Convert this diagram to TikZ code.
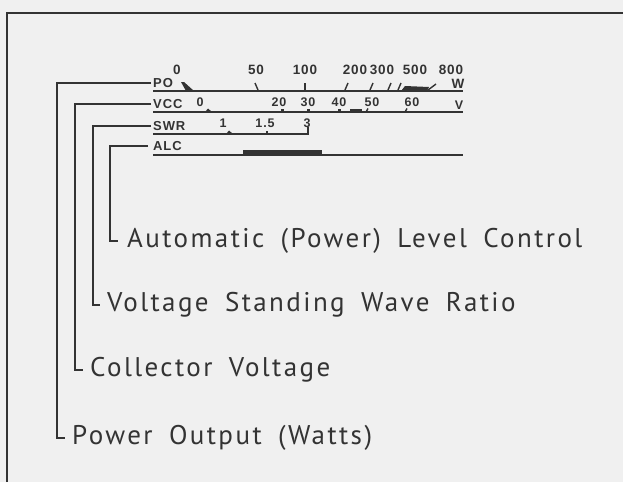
\documentclass[tikz,border=0pt]{standalone}
\usepackage{fontspec}
\setmainfont{PT Sans}
\newfontfamily\bigfont[LetterSpace=9,WordSpace=1.7]{PT Sans}
\newfontfamily\scalefont[LetterSpace=7]{Liberation Sans}
\definecolor{ink}{HTML}{333333}
\definecolor{paper}{HTML}{F0F0F0}
\tikzset{
  biglabel/.style={anchor=west, inner sep=0pt, text=ink,
    font=\bigfont\fontsize{27}{27}\selectfont, text height=19pt, text depth=6pt},
  scalelab/.style={anchor=west, inner sep=0pt, text=ink,
    font=\scalefont\bfseries\fontsize{13}{13}\selectfont, text height=9.3pt, text depth=0pt},
  num/.style={inner sep=0pt, text=ink, font=\scalefont\bfseries\fontsize{13.5}{13.5}\selectfont},
  snum/.style={inner sep=0pt, text=ink, font=\scalefont\bfseries\fontsize{12.5}{12.5}\selectfont},
  leader/.style={draw=ink, line width=1.2pt},
  scaleline/.style={draw=ink, line width=1.5pt},
  tick/.style={draw=ink, line width=1.4pt}
}
\begin{document}
\begin{tikzpicture}[x=1pt,y=-1pt]
\useasboundingbox (0,0) rectangle (623,482);
\fill[paper] (0,0) rectangle (623,482);
% frame
\draw[ink, line width=1.4pt] (7,482) -- (7,13) -- (623,13);

% scale labels
\node[scalelab] (po)  at (153,83)  {PO};
\node[scalelab] (vcc) at (153,104) {VCC};
\node[scalelab] (swr) at (153,126) {SWR};
\node[scalelab] (alc) at (153,146) {ALC};

% scale lines
\draw[scaleline] (153,91) -- (463,91);
\draw[scaleline] (153,112) -- (463,112);
\draw[scaleline] (153,134) -- (308,134);
\draw[scaleline] (153,155) -- (463,155);

% PO numbers
\node[num] (p0)   at (177,70) {0};
\node[num] (p50)  at (256,70) {50};
\node[num] (p100) at (305,70) {100};
\node[num] (p200) at (355,70) {200};
\node[num] (p300) at (382,70) {300};
\node[num] (p500) at (415,70) {500};
\node[num] (p800) at (451,70) {800};
\node[num] (pw)   at (458,84) {W};
% PO ticks
\fill[ink] (181,82) -- (184,82) -- (194,91) -- (186,91) -- cycle;
\draw[tick] (255,83) -- (258,90);
\draw[tick] (305,83) -- (305,90);
\draw[tick] (345,90) -- (348,83);
\draw[tick] (370,90) -- (373,83);
\draw[tick] (388,90) -- (391,83);
\draw[tick] (398,90) -- (401,83);
\fill[ink] (401,91) -- (405,86) -- (429,87) -- (427,91) -- cycle;
\draw[tick] (428,90) -- (436,84);

% VCC numbers
\node[snum] (v0)  at (200,102) {0};
\node[snum] (v20) at (279,102) {20};
\node[snum] (v30) at (308,102) {30};
\node[snum] (v40) at (339,102) {40};
\node[snum] (v50) at (372,102) {50};
\node[snum] (v60) at (412,102) {60};
\node[snum] (vv)  at (459,105) {V};
% VCC marks
\fill[ink] (205,112) -- (208,108.5) -- (212,112) -- cycle;
\fill[ink] (281,109) rectangle (283.5,112);
\fill[ink] (307,109) rectangle (309.5,112);
\fill[ink] (338,109) rectangle (340.5,112);
\fill[ink] (350,109) rectangle (362,112);
\draw[tick] (366,112) -- (368,108.5);
\draw[tick] (405,112) -- (407,108.5);

% SWR numbers
\node[snum] (s1)  at (223,123) {1};
\node[snum] (s15) at (265,123) {1.5};
\node[snum] (s3)  at (307,123) {3};
% SWR marks
\fill[ink] (226,134) -- (229,130.5) -- (233,134) -- cycle;
\fill[ink] (265.5,131) rectangle (268,134);
\draw[tick] (308,134.7) -- (308,127);

% ALC bar
\fill[ink] (243,150) rectangle (322,155);

% long labels
\node[biglabel] (lalc) at (127,241) {Automatic (Power) Level Control};
\node[biglabel] (lswr) at (107,305) {Voltage Standing Wave Ratio};
\node[biglabel] (lvcc) at (90,370)  {Collector Voltage};
\node[biglabel] (lpo)  at (72,438)  {Power Output (Watts)};

% leader connectors
\coordinate (kpo)  at (57,0);
\coordinate (kvcc) at (75,0);
\coordinate (kswr) at (93,0);
\coordinate (kalc) at (110,0);
\draw[leader] ([xshift=-2pt]po.west)  -- (kpo |- po.west)   -- (kpo |- lpo.west)   -- ([xshift=-7pt]lpo.west);
\draw[leader] ([xshift=-2pt]vcc.west) -- (kvcc |- vcc.west) -- (kvcc |- lvcc.west) -- ([xshift=-7pt]lvcc.west);
\draw[leader] ([xshift=-2pt]swr.west) -- (kswr |- swr.west) -- (kswr |- lswr.west) -- ([xshift=-7pt]lswr.west);
\draw[leader] ([xshift=-5pt]alc.west) -- (kalc |- alc.west) -- (kalc |- lalc.west) -- ([xshift=-9pt]lalc.west);
\end{tikzpicture}
\end{document}
